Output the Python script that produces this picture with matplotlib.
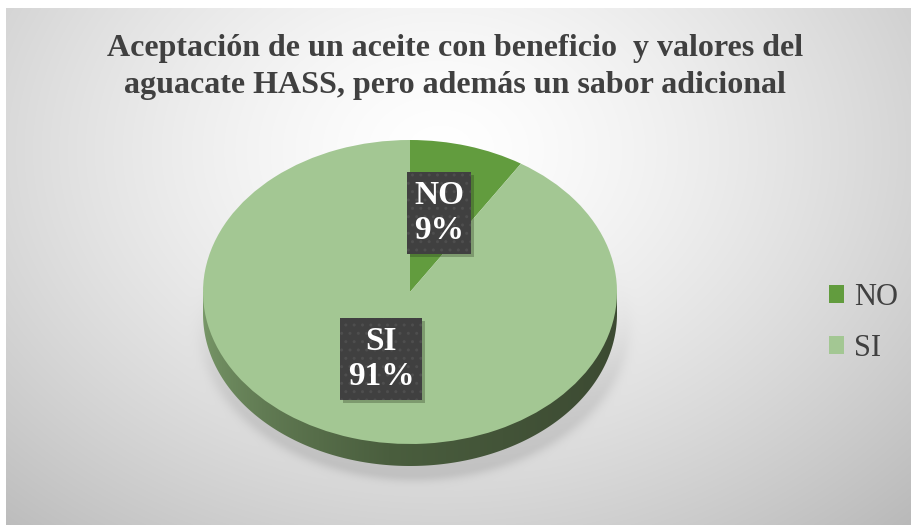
import numpy as np
import matplotlib
matplotlib.use("Agg")
import matplotlib.pyplot as plt
from matplotlib.patches import Polygon, Rectangle
from matplotlib.transforms import IdentityTransform

categories = ["NO", "SI"]
values = [9, 91]
colors = ["#629C3E", "#A3C793"]
title = "Aceptación de un aceite con beneficio  y valores del\naguacate HASS, pero además un sabor adicional"

W, H = 912, 525
fig = plt.figure(figsize=(W / 100, H / 100), dpi=100)
fig.patch.set_facecolor("white")

# background gradient
bg = fig.add_axes([6 / W, 0, 1 - 6 / W, (H - 8) / H])
bg.set_axis_off()
yy, xx = np.mgrid[0:H - 8, 0:W - 6]
xx = xx + 6
yy = yy + 8
d = np.sqrt(((xx - 440) / 620.0) ** 2 + ((yy - 150) / 470.0) ** 2)
val = 1.0 - 0.24 * np.clip(d, 0, 1.2) ** 1.4
# soft shadow beneath the pie
cx, cy, rx, ry, dep = 410, 292, 207, 152, 22
e = np.sqrt(((xx - cx - 4) / (rx + 2)) ** 2 + ((yy - cy - dep - 6) / (ry + 2)) ** 2)
wgt = 1 / (1 + np.exp(-(yy - cy - 60) / 25.0))
sh = np.where(e > 1, np.exp(-((e - 1) / 0.05) ** 2), 1.0) * wgt
val = val - 0.10 * sh
img = np.dstack([val, val, val])
bg.imshow(np.clip(img, 0, 1), extent=[0, 1, 0, 1], aspect="auto", origin="upper")
bg.set_xlim(0, 1)
bg.set_ylim(0, 1)

fig.text(455 / W, 1 - 67 / H, title, ha="center", va="center",
         fontfamily="Liberation Serif", fontweight="bold", fontsize=23,
         color="#404040", linespacing=1.33)

# pie axes
l = (cx - rx * 1.25) / W
wdt = rx * 2.5 / W
b = (H - (cy + ry * 1.25)) / H
hgt = ry * 2.5 / H
ax = fig.add_axes([l, b, wdt, hgt])
depth = dep / ry

# side of the 3D pie
t = np.linspace(np.pi, 2 * np.pi, 200)
pts = [(-1, 0)] + list(zip(np.cos(t), np.sin(t) - depth)) + [(1, 0)]
side = Polygon(pts, closed=True, facecolor="none", edgecolor="none")
ax.add_patch(side)
gx = np.linspace(0, 1, 400)
c0 = np.array([0x7a, 0x9a, 0x6a]) / 255
c1 = np.array([0x4a, 0x5e, 0x3e]) / 255
c2 = np.array([0x3c, 0x4a, 0x32]) / 255
f = np.clip(gx / 0.45, 0, 1) ** 0.6
grad = np.where(gx[:, None] < 0.45,
                c0 + (c1 - c0) * f[:, None],
                c1 + (c2 - c1) * ((gx[:, None] - 0.45) / 0.55))
gimg = grad[None, :, :]
im = ax.imshow(gimg, extent=[-1, 1, -1 - depth, 0], aspect="auto", zorder=1)
im.set_clip_path(side)

it = iter(categories)
wedges, texts, autotexts = ax.pie(
    values, colors=colors, startangle=90, counterclock=False,
    autopct=lambda p: f"{next(it)}\n{p:.0f}%", pctdistance=0.5,
    wedgeprops=dict(linewidth=0, zorder=2),
    textprops=dict(fontfamily="Liberation Serif", fontweight="bold",
                   fontsize=24, color="white"))
for w in wedges:
    w.set_zorder(2)
for at in autotexts:
    x0, y0 = at.get_position()
    at.set_position((x0, y0 + 0.04))
    at.set_zorder(5)
    at.set_linespacing(1.2)
    at.set_bbox(dict(boxstyle="square,pad=0.22", facecolor="#404040",
                     edgecolor="#4e4e4e", linewidth=0, hatch=".."))

ax.set_aspect("auto")
ax.set_xlim(-1.25, 1.25)
ax.set_ylim(-1.25, 1.25)
ax.set_axis_off()

# drop shadows for the label boxes
fig.canvas.draw()
for at in autotexts:
    bb = at.get_bbox_patch().get_window_extent()
    ax.add_patch(Rectangle((bb.x0 + 3, bb.y0 - 3), bb.width, bb.height,
                           transform=IdentityTransform(),
                           facecolor=(0.15, 0.2, 0.1, 0.3), edgecolor="none",
                           zorder=4, clip_on=False))

leg = fig.legend(wedges, categories, loc="center left",
                 bbox_to_anchor=(817 / W, 1 - 323 / H), frameon=False,
                 prop=dict(family="Liberation Serif", size=22),
                 handlelength=0.5, handleheight=0.5, handletextpad=0.3,
                 labelspacing=0.72, borderaxespad=0)
for txt in leg.get_texts():
    txt.set_color("#404040")

fig.savefig("out.png", dpi=100)
